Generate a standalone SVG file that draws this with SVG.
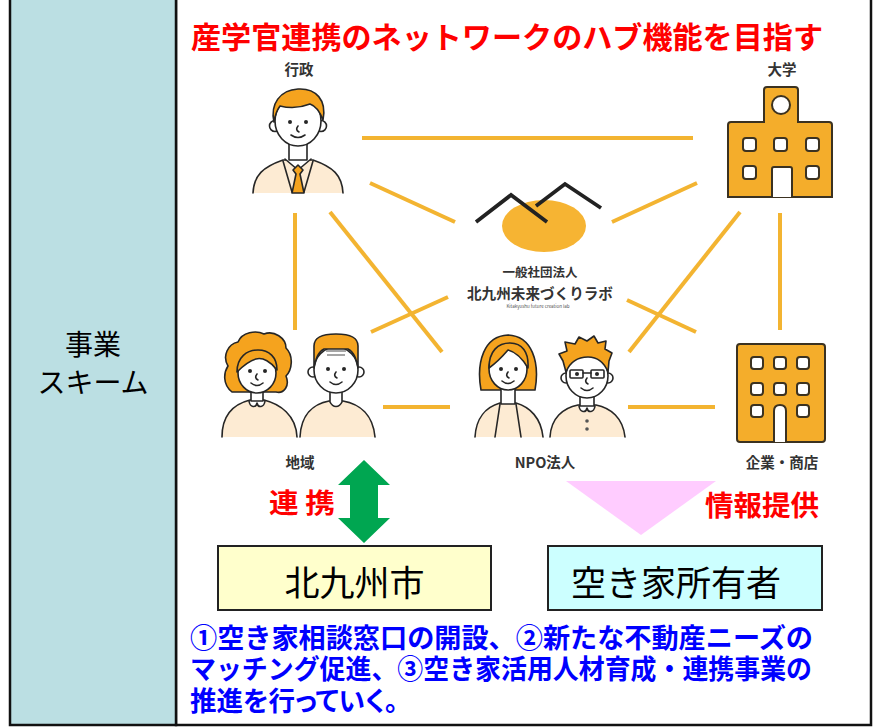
<svg xmlns="http://www.w3.org/2000/svg" width="875" height="728" viewBox="0 0 875 728">
  <style>
    .jp { font-family: "Noto Sans CJK JP", "Noto Sans", sans-serif; }
    .lbl { font-family: "Noto Sans CJK JP", sans-serif; font-weight: 700; font-size: 14.5px; fill: #333; text-anchor: middle; }
    .link { stroke: #F3B431; stroke-width: 4; fill: none; }
    .ink { stroke: #262626; stroke-width: 1.6; stroke-linejoin: round; stroke-linecap: round; }
    .hair { fill: #F5A31E; }
    .skin { fill: #fff; }
    .cloth { fill: #FDEBD3; }
    .dot { fill: #262626; }
    .bld { fill: #F4AD2B; stroke: #3b3221; stroke-width: 2; }
    .win { fill: #fff; stroke: #3b3221; stroke-width: 2; }
    .red { fill: #FF0000; font-weight: 700; }
    .blue { fill: #0000FF; font-weight: 700; font-size: 27px; }
  </style>

  <!-- frame -->
  <g id="frame">
    <rect x="176" y="-5" width="695" height="730" fill="#fff" stroke="#111" stroke-width="2.5"/>
    <rect x="10" y="-5" width="166" height="730" fill="#BBDFE3" stroke="#111" stroke-width="2.5"/>
    <text class="jp" x="93" y="355" font-size="28" text-anchor="middle" fill="#000">事業</text>
    <text class="jp" x="93" y="393" font-size="28" text-anchor="middle" fill="#000">スキーム</text>
  </g>

  <!-- heading -->
  <text id="title" class="jp red" x="191" y="48" font-size="30" textLength="632" lengthAdjust="spacingAndGlyphs">産学官連携のネットワークのハブ機能を目指す</text>

  <!-- network links -->
  <g id="links">
    <line class="link" x1="362" y1="138" x2="693" y2="138"/>
    <line class="link" x1="370" y1="183" x2="455" y2="222"/>
    <line class="link" x1="697" y1="183" x2="612" y2="222"/>
    <line class="link" x1="295" y1="213" x2="295" y2="330"/>
    <line class="link" x1="780" y1="213" x2="780" y2="330"/>
    <line class="link" x1="330" y1="212" x2="442" y2="352"/>
    <line class="link" x1="371" y1="332" x2="448" y2="297"/>
    <line class="link" x1="740" y1="212" x2="629" y2="352"/>
    <line class="link" x1="627" y1="300" x2="696" y2="332"/>
    <line class="link" x1="383" y1="407" x2="450" y2="407"/>
    <line class="link" x1="628" y1="407" x2="715" y2="407"/>
  </g>

  <!-- centre: lab logo -->
  <g id="node-lab">
    <ellipse cx="544" cy="226" rx="42" ry="26" fill="#F6B433"/>
    <polyline points="476,222 511,195 547,222" fill="none" stroke="#222" stroke-width="3.8"/>
    <polyline points="536,206 565,184 601,208" fill="none" stroke="#222" stroke-width="3.8"/>
    <text class="jp" x="540" y="277" font-size="12.5" font-weight="700" fill="#333" text-anchor="middle">一般社団法人</text>
    <text class="jp" x="540" y="299" font-size="14.6" font-weight="700" fill="#333" text-anchor="middle">北九州未来づくりラボ</text>
    <text class="jp" x="538" y="308" font-size="4.5" fill="#555" text-anchor="middle">Kitakyushu future creation lab</text>
  </g>

  <!-- administration -->
  <g id="node-gyosei">
    <text class="lbl" x="299" y="75">行政</text>
    <path class="cloth ink" d="M253,193 C254,175 263,167 283,160 L313,160 C333,167 342,175 343,193"/>
    <path class="skin ink" d="M285,159 L298,170 L311,159"/>
    <path class="ink" fill="none" d="M283,161 L292,192 M313,161 L304,192"/>
    <path class="hair ink" d="M298,165 L293,170 L296,174 L292,193 L304,193 L300,174 L303,170 Z"/>
    <path class="skin ink" d="M289,140 L289,160 L307,160 L307,140"/>
    <circle class="skin ink" cx="275" cy="126" r="5.5"/>
    <circle class="skin ink" cx="321" cy="126" r="5.5"/>
    <ellipse class="skin ink" cx="298" cy="121" rx="23" ry="25"/>
    <path class="hair ink" d="M274,122 C270,104 280,90 298,89 C316,88 327,100 323,120 C320,112 316,106 310,104 C300,108 288,108 280,106 C277,110 275,116 274,122 Z"/>
    <circle class="dot" cx="290" cy="122" r="2"/>
    <circle class="dot" cx="306" cy="122" r="2"/>
    <path class="ink" fill="none" d="M298,126 q-3,4 1,6"/>
    <path class="ink" fill="none" d="M291,135 q7,5 14,0"/>
  </g>

  <!-- university -->
  <g id="node-daigaku">
    <text class="lbl" x="782" y="75">大学</text>
    <path class="bld" d="M767,87 L795,87 Q798,87 798,90 L798,122 L829,122 Q832,122 832,125 L832,197 L728,197 L728,125 Q728,122 731,122 L764,122 L764,90 Q764,87 767,87 Z"/>
    <circle class="win" cx="781" cy="105" r="9"/>
    <rect class="win" x="743" y="138" width="13" height="13" rx="3"/>
    <rect class="win" x="774" y="138" width="13" height="13" rx="3"/>
    <rect class="win" x="806" y="138" width="13" height="13" rx="3"/>
    <rect class="win" x="743" y="166" width="13" height="13" rx="3"/>
    <rect class="win" x="806" y="166" width="13" height="13" rx="3"/>
    <path class="win" d="M772,197 L772,169 Q772,167 774,167 L790,167 Q792,167 792,169 L792,197"/>
  </g>

  <!-- local community -->
  <g id="node-chiiki">
    <path class="cloth ink" d="M222,437 C222,415 234,404 250,400 L264,400 C280,404 296,415 297,437"/>
    <path class="skin ink" d="M249,401 C250,408 256,408 257,403 C258,408 264,408 265,401"/>
    <path class="skin ink" d="M251,386 L251,401 L263,401 L263,386"/>
    <path class="hair ink" d="M232,392 C222,384 224,372 228,366 C222,356 228,344 238,342 C242,332 256,330 264,334 C274,330 286,338 286,348 C294,356 292,370 286,376 C290,386 284,394 276,392 Z"/>
    <ellipse class="skin ink" cx="257" cy="373" rx="19" ry="20"/>
    <path class="hair ink" d="M237,372 C237,357 247,350 258,350 C269,350 277,357 277,370 C271,362 263,357 256,359 C249,361 243,366 237,372 Z"/>
    <circle class="dot" cx="250" cy="371" r="2"/>
    <circle class="dot" cx="265" cy="371" r="2"/>
    <path class="ink" fill="none" d="M257,374 q-3,4 1,6"/>
    <path class="ink" fill="none" d="M251,383 q6,5 12,0"/>

    <path class="cloth ink" d="M300,437 C301,415 313,404 329,401 L343,401 C360,404 373,415 375,437"/>
    <path class="skin ink" d="M330,390 L330,402 C333,408 339,408 342,402 L342,390"/>
    <circle class="skin ink" cx="313" cy="372" r="5"/>
    <circle class="skin ink" cx="359" cy="372" r="5"/>
    <ellipse class="skin ink" cx="336" cy="370" rx="22" ry="23"/>
    <path class="hair ink" d="M314,368 L314,346 C314,338 320,334 336,334 C352,334 358,338 358,346 L358,368 C356,358 354,352 348,349 L324,349 C318,352 316,358 314,368 Z"/>
    <path fill="none" stroke="#888" stroke-width="1.3" d="M326,351 h20 M327,355 h18"/>
    <circle class="dot" cx="328" cy="369" r="2"/>
    <circle class="dot" cx="344" cy="369" r="2"/>
    <path class="ink" fill="none" d="M336,372 q-3,4 1,6"/>
    <path class="ink" fill="none" d="M330,382 q6,5 12,0"/>
    <text class="lbl" x="300" y="468">地域</text>
  </g>

  <!-- NPO -->
  <g id="node-npo">
    <path class="hair ink" d="M481,390 C476,362 484,336 508,335 C532,336 540,362 535,390 Z"/>
    <path class="cloth ink" d="M475,437 C476,418 486,407 500,403 L516,403 C530,407 541,418 543,437"/>
    <path class="ink" fill="none" d="M500,404 L495,437 M516,404 L521,437"/>
    <path class="skin ink" d="M501,386 L501,404 L515,404 L515,386"/>
    <ellipse class="skin ink" cx="508" cy="369" rx="19" ry="21"/>
    <path class="hair ink" d="M489,368 C489,351 498,343 510,343 C522,343 529,352 528,368 C522,358 516,352 508,350 C502,357 496,363 489,368 Z"/>
    <circle class="dot" cx="501" cy="369" r="2"/>
    <circle class="dot" cx="516" cy="369" r="2"/>
    <path class="ink" fill="none" d="M508,372 q-3,4 1,6"/>
    <path class="ink" fill="none" d="M502,381 q6,5 12,0"/>

    <path class="cloth ink" d="M550,437 C551,418 563,408 578,405 L596,405 C611,408 623,418 625,437"/>
    <path class="skin ink" d="M579,406 C580,413 586,413 587,408 C588,413 594,413 595,406"/>
    <path class="skin ink" d="M580,394 L580,406 L594,406 L594,394"/>
    <circle fill="#555" cx="587" cy="421" r="1.8"/>
    <circle fill="#555" cx="587" cy="429" r="1.8"/>
    <circle class="skin ink" cx="566" cy="378" r="5"/>
    <circle class="skin ink" cx="608" cy="378" r="5"/>
    <ellipse class="skin ink" cx="587" cy="376" rx="21" ry="22"/>
    <path class="hair ink" d="M566,372 L563,361 L559,354 L567,351 L565,342 L575,344 L579,337 L587,341 L594,336 L598,343 L606,341 L605,349 L612,353 L609,361 L608,372 C604,362 598,357 588,357 C578,357 570,362 566,372 Z"/>
    <rect fill="none" class="ink" x="570" y="370" width="13" height="8" rx="1"/>
    <rect fill="none" class="ink" x="591" y="370" width="13" height="8" rx="1"/>
    <path class="ink" d="M583,373 L591,373"/>
    <circle class="dot" cx="577" cy="374" r="2"/>
    <circle class="dot" cx="597" cy="374" r="2"/>
    <path class="ink" fill="none" d="M587,378 q-3,4 1,6"/>
    <path class="ink" fill="none" d="M581,388 q6,5 12,0"/>
    <text class="lbl" x="545" y="468">NPO法人</text>
  </g>

  <!-- business / shops -->
  <g id="node-kigyo">
    <rect class="bld" x="737" y="344" width="88" height="98" rx="3"/>
    <rect class="win" x="751" y="357" width="12" height="12" rx="3"/>
    <rect class="win" x="774" y="357" width="12" height="12" rx="3"/>
    <rect class="win" x="797" y="357" width="12" height="12" rx="3"/>
    <rect class="win" x="751" y="383" width="12" height="12" rx="3"/>
    <rect class="win" x="774" y="383" width="12" height="12" rx="3"/>
    <rect class="win" x="797" y="383" width="12" height="12" rx="3"/>
    <rect class="win" x="751" y="405" width="12" height="12" rx="3"/>
    <rect class="win" x="797" y="405" width="12" height="12" rx="3"/>
    <path class="win" d="M774,442 L774,411 Q774,405 780,405 Q786,405 786,411 L786,442"/>
    <text class="lbl" x="782" y="468">企業・商店</text>
  </g>

  <!-- two-way link to the city -->
  <g id="arrow-link">
    <polygon points="364,460 390,485 378,485 378,518 390,518 364,543 338,518 350,518 350,485 338,485" fill="#00A651"/>
    <text class="jp red" x="269" y="513" font-size="27" textLength="66" lengthAdjust="spacingAndGlyphs">連 携</text>
  </g>

  <!-- information flow to owners -->
  <g id="arrow-info">
    <polygon points="566,481 716,481 641,535" fill="#FFCCFF"/>
    <text class="jp red" x="705" y="516" font-size="28" textLength="114" lengthAdjust="spacingAndGlyphs">情報提供</text>
  </g>

  <g id="node-city">
    <rect x="218" y="546" width="273" height="64" fill="#FFFFCC" stroke="#222" stroke-width="2"/>
    <text class="jp" x="354.5" y="596" font-size="35" text-anchor="middle" fill="#000">北九州市</text>
  </g>

  <g id="node-owner">
    <rect x="548" y="546" width="274" height="64" fill="#CCFFFF" stroke="#222" stroke-width="2"/>
    <text class="jp" x="676" y="596" font-size="35" text-anchor="middle" fill="#000">空き家所有者</text>
  </g>

  <!-- summary paragraph, one text block with three lines -->
  <text id="summary" class="jp blue">
    <tspan x="190" y="648" textLength="623" lengthAdjust="spacingAndGlyphs">①空き家相談窓口の開設、②新たな不動産ニーズの</tspan>
    <tspan x="190" y="679" textLength="622" lengthAdjust="spacingAndGlyphs">マッチング促進、③空き家活用人材育成・連携事業の</tspan>
    <tspan x="190" y="711" textLength="208" lengthAdjust="spacingAndGlyphs" style="font-feature-settings: 'palt'">推進を行っていく。</tspan>
  </text>
</svg>
